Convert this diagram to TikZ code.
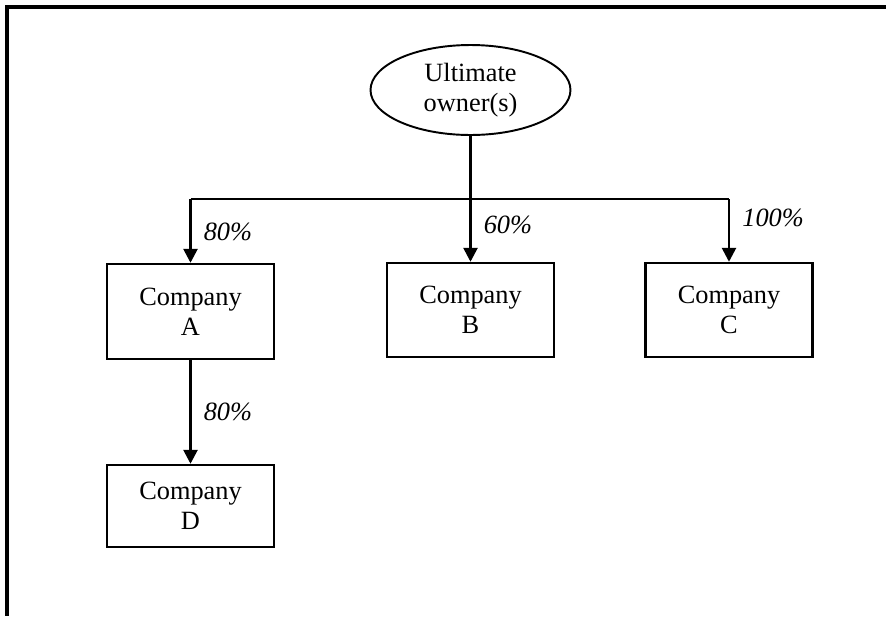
\documentclass[tikz,border=0pt]{standalone}
\usepackage{fontspec}
\setmainfont{Liberation Serif}
\usetikzlibrary{shapes.geometric,arrows.meta}

\newcommand{\boxfont}{\fontsize{15}{17.2}\selectfont}

\tikzset{
  company/.style={draw, line width=1.4pt, minimum width=3.34cm, minimum height=1.9cm, inner sep=0pt, align=center},
  owner/.style={draw, ellipse, line width=1.1pt, minimum width=4cm, minimum height=1.8cm, inner sep=0pt, align=center},
  link/.style={line width=1.5pt},
  holds/.style={link, -{Triangle[width=0.28cm,length=0.28cm]}},
  pct/.style={font=\boxfont\itshape, inner sep=0pt, right=0.24cm}
}

\begin{document}
\begin{tikzpicture}[x=0.02cm, y=-0.02cm, font=\boxfont]
            \useasboundingbox (0,0) rectangle (886,616);
            \draw[line width=2.2pt] (886,7) -- (7,7) -- (7,616);

            \node[owner] (own) at (470.5,90) {Ultimate\\owner(s)};
            \node[company] (compA) at (190.5,311.5) {Company\\A};
            \node[company, minimum height=1.88cm] (compB) at (470.5,310) {Company\\B};
            \node[company, minimum height=1.88cm] (compC) at (729,310) {Company\\C};
            \node[company, minimum height=1.64cm] (compD) at (190.5,506) {Company\\D};

            \coordinate (split) at (own.south |- 0,199);
            \draw[link] (own.south) -- (split);
            \draw[link] (compA.north |- split) -- (compC.north |- split);

            \draw[holds] (compA.north |- split) -- node[pct, pos=0.52] (pctA) {80\%} (compA.north);
            \draw[holds] (split) -- node[pct, pos=0.42] (pctB) {60\%} (compB.north);
            \draw[holds] (compC.north |- split) -- node[pct, pos=0.3] (pctC) {100\%} (compC.north);
            \draw[holds] (compA.south) -- node[pct] (pctD) {80\%} (compD.north);
        \end{tikzpicture}
\end{document}
